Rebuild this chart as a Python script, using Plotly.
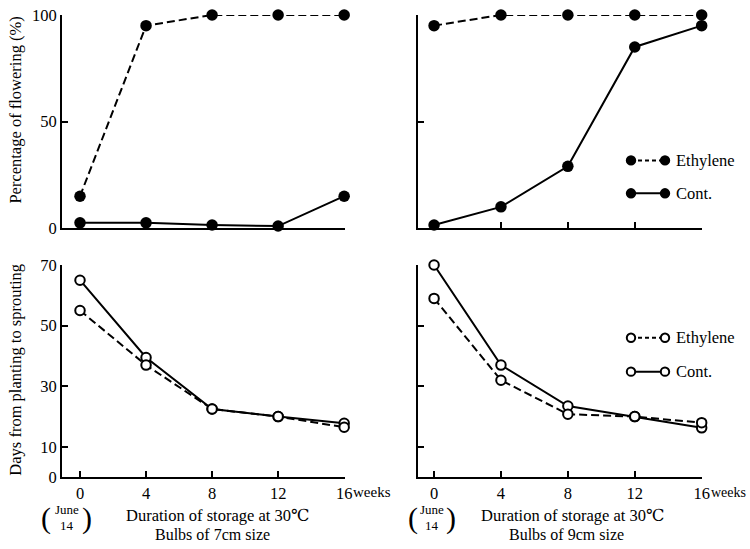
import plotly.graph_objects as go

weeks = [0, 4, 8, 12, 16]
tick_labels_x = ["0", "4", "8", "12", "16"]

# Percentage of flowering (%)
flower_7cm_ethylene = [15, 95, 100, 100, 100]
flower_7cm_cont = [2.5, 2.5, 1.5, 1, 15]
flower_9cm_ethylene = [95, 100, 100, 100, 100]
flower_9cm_cont = [1.5, 10, 29, 85, 95]

# Days from planting to sprouting
sprout_7cm_ethylene = [55, 37, 22.5, 20, 16.5]
sprout_7cm_cont = [65, 39.5, 22.5, 20, 17.8]
sprout_9cm_ethylene = [59, 32, 20.8, 20, 18]
sprout_9cm_cont = [70, 37, 23.5, 20, 16.3]

top_ticks = [0, 50, 100]
bottom_ticks = [0, 10, 30, 50, 70]

W, H = 750, 549
FONT = "Liberation Serif, Times New Roman, DejaVu Serif, serif"

# the captured page appears scaled into (0..742, 8..540); compensate
SX, SY, OY = 742 / 750, 532 / 549, 8.0

def px(x):
    return (x / SX) / W

def py(y):
    return 1 - ((y - OY) / SY) / H

fig = go.Figure()
dash = "8px,4px"

def add_pair(xa, ya, eth, cont, filled):
    if filled:
        mk = dict(size=11.5, color="black", symbol="circle")
    else:
        mk = dict(size=9.5, color="white", symbol="circle",
                  line=dict(color="black", width=2))
    fig.add_trace(go.Scatter(x=weeks, y=cont, mode="lines+markers",
                             line=dict(color="black", width=2),
                             marker=mk, xaxis=xa, yaxis=ya, cliponaxis=False,
                             name="Cont.", showlegend=False))
    fig.add_trace(go.Scatter(x=weeks, y=eth, mode="lines+markers",
                             line=dict(color="black", width=2, dash=dash),
                             marker=mk, xaxis=xa, yaxis=ya, cliponaxis=False,
                             name="Ethylene", showlegend=False))

add_pair("x", "y", flower_7cm_ethylene, flower_7cm_cont, True)
add_pair("x2", "y2", flower_9cm_ethylene, flower_9cm_cont, True)
add_pair("x3", "y3", sprout_7cm_ethylene, sprout_7cm_cont, False)
add_pair("x4", "y4", sprout_9cm_ethylene, sprout_9cm_cont, False)

tickfont = dict(family=FONT, size=16.5, color="black")

def xaxis(dom, rng, labels, anchor):
    return dict(domain=dom, range=rng, anchor=anchor, showgrid=False, zeroline=False,
                showline=True, linecolor="black", linewidth=2,
                ticks="inside", ticklen=6, tickwidth=1.5, tickcolor="black",
                tickvals=weeks, ticktext=tick_labels_x if labels else None,
                showticklabels=labels, tickfont=tickfont)

def yaxis(dom, rng, tv, labels, anchor):
    return dict(domain=dom, range=rng, anchor=anchor, showgrid=False, zeroline=False,
                showline=True, linecolor="black", linewidth=2,
                ticks="inside", ticklen=6, tickwidth=1.5, tickcolor="black",
                tickvals=tv, showticklabels=labels, tickfont=tickfont)

xl = [px(62), px(345)]
xr = [px(418), px(702)]
yt = [py(228), py(14)]
yb = [py(478), py(265)]
rng_l = [-1.09, 16.05]
rng_r = [-0.96, 16.02]

fig.update_layout(
    width=W, height=H, autosize=False,
    margin=dict(l=0, r=0, t=0, b=0),
    paper_bgcolor="white", plot_bgcolor="white",
    showlegend=False,
    font=dict(family=FONT, color="black"),
    xaxis=xaxis(xl, rng_l, False, "y"),
    yaxis=yaxis(yt, [0, 100], top_ticks, True, "x"),
    xaxis2=xaxis(xr, rng_r, False, "y2"),
    yaxis2=yaxis(yt, [0, 100], top_ticks, False, "x2"),
    xaxis3=xaxis(xl, rng_l, True, "y3"),
    yaxis3=yaxis(yb, [0, 70], bottom_ticks, True, "x3"),
    xaxis4=xaxis(xr, rng_r, True, "y4"),
    yaxis4=yaxis(yb, [0, 70], bottom_ticks, False, "x4"),
)

ann = []
def text(x, y, s, size=15, xanchor="center", angle=0):
    ann.append(dict(x=px(x), y=py(y), xref="paper", yref="paper", text=s,
                    showarrow=False, xanchor=xanchor, yanchor="middle",
                    textangle=angle, font=dict(family=FONT, size=size, color="black")))

text(16, 110, "Percentage of flowering (%)", 16.5, angle=-90)
text(16, 370, "Days from planting to sprouting", 16.5, angle=-90)
for cx in (217, 572):
    text(cx, 516, "Duration of storage at 30℃", 16.5)
text(212, 535.5, "Bulbs of 7cm size", 16)
text(566, 535.5, "Bulbs of 9cm size", 16)
text(351, 493, "weeks", 15, xanchor="left")
text(709, 493, "weeks", 14, xanchor="left")
for (cx, l, r) in ((67, 46, 87), (432, 413, 451)):
    text(cx, 510, "June", 13)
    text(cx, 526, "14", 13)
    text(l, 519, "(", 30)
    text(r, 519, ")", 30)

# legends
shapes = []
def legend_row(y, dashed, filled, label):
    x1, x2 = 631, 665
    shapes.append(dict(type="line", xref="paper", yref="paper",
                       x0=px(x1), x1=px(x2), y0=py(y), y1=py(y),
                       line=dict(color="black", width=2, dash="4px,3px" if dashed else "solid")))
    r = 5.2 if filled else 4.2
    for cx in (x1, x2):
        shapes.append(dict(type="circle", xref="paper", yref="paper",
                           x0=px(cx - r), x1=px(cx + r), y0=py(y + r), y1=py(y - r),
                           fillcolor="black" if filled else "white",
                           line=dict(color="black", width=2 if not filled else 0)))
    text(674, y, label, 16.5, xanchor="left")

legend_row(160, True, True, "Ethylene")
legend_row(193, False, True, "Cont.")
legend_row(338, True, False, "Ethylene")
legend_row(372, False, False, "Cont.")

fig.update_layout(annotations=ann, shapes=shapes)
fig.write_html(
    "out.html",
    config={"responsive": False, "displayModeBar": False},
    post_script=(
        "document.documentElement.style.margin='0';"
        "document.documentElement.style.overflow='hidden';"
        "document.body.style.margin='0';document.body.style.padding='0';"
        "document.body.style.overflow='hidden';"
    ),
)
